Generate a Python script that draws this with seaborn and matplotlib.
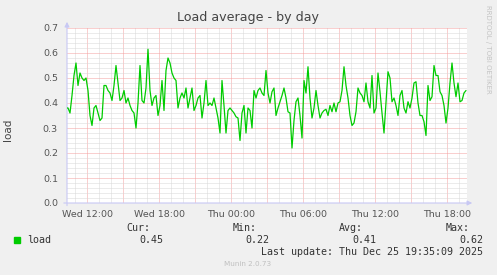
import numpy as np
import pandas as pd
import matplotlib
matplotlib.use("Agg")
import matplotlib.pyplot as plt
import seaborn as sns
from matplotlib.ticker import MultipleLocator, FixedLocator, FormatStrFormatter
from matplotlib.patches import Rectangle

# ---- data (5-min load average, read every 10 minutes) ----
load = [
    0.38, 0.38, 0.36, 0.43, 0.51, 0.56, 0.47, 0.52, 0.50, 0.49,
    0.50, 0.45, 0.35, 0.31, 0.38, 0.39, 0.36, 0.33, 0.34, 0.47,
    0.47, 0.45, 0.44, 0.41, 0.47, 0.55, 0.48, 0.41, 0.42, 0.45,
    0.40, 0.42, 0.39, 0.37, 0.36, 0.30, 0.40, 0.55, 0.41, 0.40,
    0.46, 0.615, 0.45, 0.39, 0.42, 0.43, 0.35, 0.39, 0.49, 0.37,
    0.53, 0.58, 0.56, 0.52, 0.50, 0.49, 0.38, 0.42, 0.44, 0.42,
    0.46, 0.38, 0.42, 0.46, 0.37, 0.39, 0.42, 0.43, 0.34, 0.40,
    0.49, 0.39, 0.40, 0.39, 0.42, 0.38, 0.34, 0.28, 0.49, 0.39,
    0.28, 0.37, 0.38, 0.37, 0.36, 0.345, 0.34, 0.25, 0.36, 0.39,
    0.28, 0.38, 0.37, 0.30, 0.45, 0.42, 0.45, 0.46, 0.44, 0.43,
    0.53, 0.44, 0.40, 0.445, 0.46, 0.35, 0.38, 0.405, 0.43, 0.46,
    0.42, 0.365, 0.36, 0.22, 0.33, 0.405, 0.42, 0.35, 0.26, 0.49,
    0.44, 0.545, 0.42, 0.34, 0.38, 0.45, 0.39, 0.34, 0.36, 0.37,
    0.375, 0.35, 0.39, 0.365, 0.40, 0.365, 0.40, 0.405, 0.45, 0.545,
    0.47, 0.42, 0.35, 0.31, 0.32, 0.365, 0.46, 0.44, 0.43, 0.405,
    0.48, 0.405, 0.38, 0.51, 0.36, 0.38, 0.52, 0.445, 0.36, 0.28,
    0.40, 0.525, 0.50, 0.405, 0.42, 0.39, 0.35, 0.43, 0.45, 0.38,
    0.36, 0.405, 0.38, 0.42, 0.48, 0.485, 0.40, 0.35, 0.35, 0.325,
    0.27, 0.47, 0.41, 0.425, 0.55, 0.51, 0.51, 0.445, 0.43, 0.39,
    0.32, 0.38, 0.48, 0.56, 0.48, 0.425, 0.48, 0.405, 0.41, 0.44,
    0.45,
]
start_hour = 10.25          # Wed 10:15, hours since Wed 00:00
step_hours = 10 / 60        # 10 minutes
tick_hours = [12, 18, 24, 30, 36, 42]
tick_labels = ["Wed 12:00", "Wed 18:00", "Thu 00:00",
               "Thu 06:00", "Thu 12:00", "Thu 18:00"]
stat_names = ["Cur:", "Min:", "Avg:", "Max:"]
stat_values = ["0.45", "0.22", "0.41", "0.62"]
series_name = "load"
title = "Load average - by day"
last_update = "Last update: Thu Dec 25 19:35:09 2025"

df = pd.DataFrame({"hour": start_hour + step_hours * np.arange(len(load)),
                   "load": load})

sns.set_theme(style="white")
plt.rcParams["font.family"] = ["DejaVu Sans"]

W, H = 497, 275
fig = plt.figure(figsize=(W / 100, H / 100), dpi=100, facecolor="#f0f0f0")
ax = fig.add_axes([67 / W, 72 / H, 400 / W, 175 / H])
ax.set_facecolor("white")

sns.lineplot(data=df, x="hour", y="load", ax=ax, color="#00cc00",
             linewidth=0.9, zorder=5)

x0 = 12 - 100 / 60
ax.set_xlim(x0, x0 + 2000 / 60)
ax.set_ylim(0, 0.7)

# ticks / grid
major_x = list(np.arange(12, 43.5, 3))
ax.xaxis.set_major_locator(FixedLocator(major_x))
lbl_map = dict(zip(tick_hours, tick_labels))
ax.set_xticklabels([lbl_map.get(int(h), "") for h in major_x])
ax.xaxis.set_minor_locator(MultipleLocator(1))
ax.yaxis.set_major_locator(MultipleLocator(0.1))
ax.yaxis.set_minor_locator(MultipleLocator(0.02))
ax.yaxis.set_major_formatter(FormatStrFormatter("%.1f"))

ax.grid(which="minor", color="#d8d8d8", linestyle=(0, (1, 1)), linewidth=0.72)
ax.grid(which="major", color="#f4a0a0", linestyle=(0, (1, 1)), linewidth=0.72)
ax.set_axisbelow(True)

ax.tick_params(which="major", axis="both", length=2.5, width=0.7,
               color="#f08080", labelsize=6.8, labelcolor="#555555",
               direction="out", pad=2.5)
ax.tick_params(which="minor", length=0)
ax.tick_params(axis="y", pad=4)
ax.set_xlabel("")
ax.set_ylabel("")
for s in ax.spines.values():
    s.set_visible(False)

# axis lines with arrows
acol = "#c8c8f4"
ax.annotate("", xy=(0, 1.035), xytext=(0, -0.015), xycoords="axes fraction",
            arrowprops=dict(arrowstyle="-|>", color=acol, lw=0.8,
                            mutation_scale=7, shrinkA=0, shrinkB=0),
            annotation_clip=False)
ax.annotate("", xy=(1.013, 0), xytext=(-0.008, 0), xycoords="axes fraction",
            arrowprops=dict(arrowstyle="-|>", color=acol, lw=0.8,
                            mutation_scale=7, shrinkA=0, shrinkB=0),
            annotation_clip=False)

# texts
fig.text(248 / W, 1 - 18 / H, title, ha="center", va="center",
         fontsize=9.1, color="#444444")
fig.text(8 / W, 1 - 130 / H, "load", rotation=90, ha="center", va="center",
         fontsize=7.5, color="#444444")
fig.text(488 / W, 1 - 5 / H, "RRDTOOL / TOBI OETIKER", rotation=270,
         ha="center", va="top", fontsize=5.0, color="#c4c4c4")

mono = "DejaVu Sans Mono"
fig.patches.append(Rectangle((14 / W, 1 - 243 / H), 6 / W, 6 / H,
                             transform=fig.transFigure, color="#00cc00"))
fig.text(27 / W, 1 - 240 / H, series_name, ha="left", va="center",
         fontsize=7.2, family=mono, color="#333333")
name_right = [150, 257, 363, 470]
val_right = [163, 269, 376, 483]
for nm, vv, xn, xv in zip(stat_names, stat_values, name_right, val_right):
    fig.text(xn / W, 1 - 228 / H, nm, ha="right", va="center",
             fontsize=7.2, family=mono, color="#333333")
    fig.text(xv / W, 1 - 240 / H, vv, ha="right", va="center",
             fontsize=7.2, family=mono, color="#333333")
fig.text(483 / W, 1 - 252 / H, last_update, ha="right", va="center",
         fontsize=7.2, family=mono, color="#333333")
fig.text(248 / W, 1 - 264 / H, "Munin 2.0.73", ha="center", va="center",
         fontsize=5.2, color="#c0c0c0")

fig.savefig("out.png", dpi=100, facecolor=fig.get_facecolor())
